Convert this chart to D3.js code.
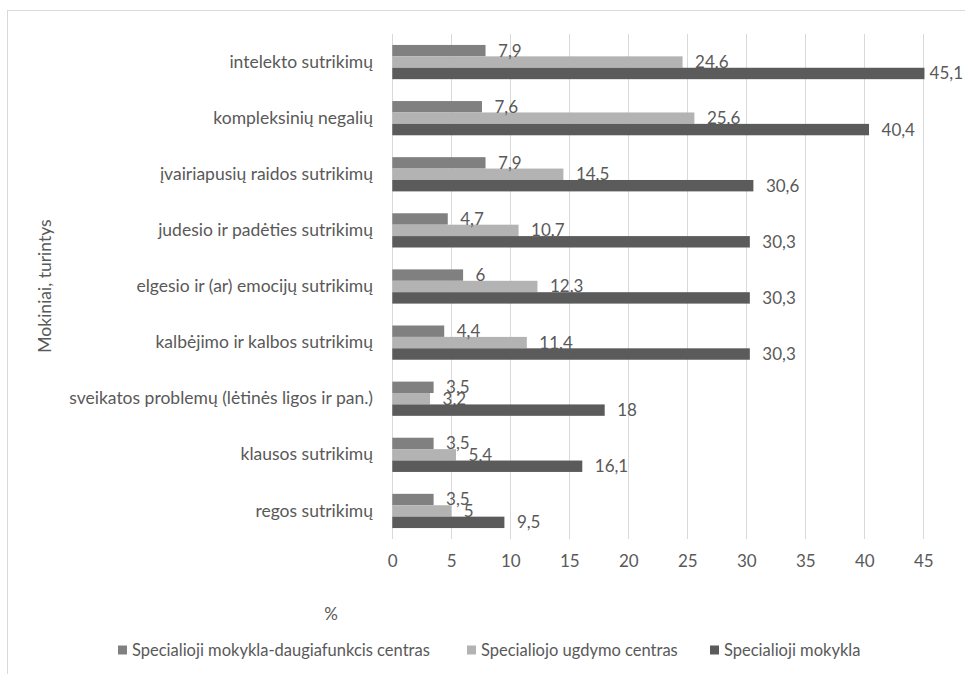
<!DOCTYPE html>
<html>
<head>
<meta charset="utf-8">
<script src="https://cdn.jsdelivr.net/npm/d3@7"></script>
<style>
  body { margin: 0; background: #fff; }
  svg text { font-family: Lato, "Open Sans", sans-serif; fill: #595959; }
</style>
</head>
<body>
<svg width="965" height="674"></svg>
<script>
// chart data
const categories = [
  "intelekto sutrikimų",
  "kompleksinių negalių",
  "įvairiapusių raidos sutrikimų",
  "judesio ir padėties sutrikimų",
  "elgesio ir (ar) emocijų sutrikimų",
  "kalbėjimo ir kalbos sutrikimų",
  "sveikatos problemų (lėtinės ligos ir pan.)",
  "klausos sutrikimų",
  "regos sutrikimų"
];
const seriesNames = [
  "Specialioji mokykla-daugiafunkcis centras",
  "Specialiojo ugdymo centras",
  "Specialioji mokykla"
];
const daugiafunkcis = [7.9, 7.6, 7.9, 4.7, 6, 4.4, 3.5, 3.5, 3.5];
const ugdymoCentras = [24.6, 25.6, 14.5, 10.7, 12.3, 11.4, 3.2, 5.4, 5];
const mokykla = [45.1, 40.4, 30.6, 30.3, 30.3, 30.3, 18, 16.1, 9.5];
const xTicks = [0, 5, 10, 15, 20, 25, 30, 35, 40, 45];

const seriesValues = [daugiafunkcis, ugdymoCentras, mokykla];
const colors = ["#808080", "#b3b3b3", "#5b5b5b"];
const fontSize = 17;
const width = 965;

const svg = d3.select("svg");

// outer frame (only top and left visible)
svg.append("rect")
  .attr("x", 7.5).attr("y", 10.5)
  .attr("width", 1000).attr("height", 1000)
  .attr("fill", "none")
  .attr("stroke", "#d9d9d9");

// scales
const x = d3.scaleLinear().domain([0, 45]).range([392.3, 923.3]);
const y0 = d3.scaleBand()
  .domain(categories)
  .range([34, 539])
  .paddingInner(0.39)
  .paddingOuter(0.195);
const y1 = d3.scaleBand()
  .domain(d3.range(seriesNames.length))
  .range([0, y0.bandwidth()]);

// gridlines
svg.append("g")
  .selectAll("line")
  .data(xTicks)
  .enter()
  .append("line")
  .attr("x1", d => Math.round(x(d)) + 0.5)
  .attr("x2", d => Math.round(x(d)) + 0.5)
  .attr("y1", 34)
  .attr("y2", 539)
  .attr("stroke", "#d9d9d9")
  .attr("stroke-width", 1);

// x axis labels
const xAxis = svg.append("g")
  .attr("transform", "translate(0,539)")
  .call(d3.axisBottom(x).tickValues(xTicks).tickSize(0).tickPadding(16));
xAxis.select(".domain").remove();
xAxis.selectAll("text")
  .attr("font-size", fontSize)
  .style("font-family", "Lato, 'Open Sans', sans-serif")
  .attr("fill", "#595959");

// category labels
const yAxis = svg.append("g")
  .attr("transform", "translate(392,0)")
  .call(d3.axisLeft(y0).tickSize(0).tickPadding(19));
yAxis.select(".domain").remove();
yAxis.selectAll("text")
  .attr("font-size", 17.5)
  .style("font-family", "Lato, 'Open Sans', sans-serif")
  .attr("fill", "#595959");

// bars
const groups = svg.append("g")
  .selectAll("g")
  .data(categories)
  .enter()
  .append("g")
  .attr("transform", d => "translate(0," + y0(d) + ")");

groups.selectAll("rect")
  .data((c, ci) => seriesValues.map((vals, si) => ({ si: si, v: vals[ci] })))
  .enter()
  .append("rect")
  .attr("x", x(0))
  .attr("y", d => y1(d.si))
  .attr("width", d => x(d.v) - x(0))
  .attr("height", y1.bandwidth())
  .attr("fill", d => colors[d.si]);

// data labels, kept inside the picture
groups.selectAll("text")
  .data((c, ci) => seriesValues.map((vals, si) => ({ si: si, v: vals[ci] })))
  .enter()
  .append("text")
  .attr("y", d => y1(d.si) + y1.bandwidth() / 2)
  .attr("dy", "0.35em")
  .attr("font-size", fontSize)
  .text(d => String(d.v).replace(".", ","))
  .attr("x", function(d) {
    const w = this.getComputedTextLength();
    return Math.min(x(d.v) + 12.5, width - 2 - w);
  });

// axis titles
svg.append("text")
  .attr("transform", "translate(51,286) rotate(-90)")
  .attr("text-anchor", "middle")
  .attr("font-size", 17.5)
  .text("Mokiniai, turintys");

svg.append("text")
  .attr("x", 331)
  .attr("y", 620)
  .attr("text-anchor", "middle")
  .attr("font-size", fontSize)
  .text("%");

// legend
const legendX = [118, 467, 710];
const legend = svg.append("g")
  .selectAll("g")
  .data(seriesNames)
  .enter()
  .append("g")
  .attr("transform", (d, i) => "translate(" + legendX[i] + ",650)");
legend.append("rect")
  .attr("x", 0)
  .attr("y", -4.5)
  .attr("width", 9)
  .attr("height", 9)
  .attr("fill", (d, i) => colors[i]);
legend.append("text")
  .attr("x", 14)
  .attr("y", 0)
  .attr("dy", "0.35em")
  .attr("font-size", 16.5)
  .text(d => d);
</script>
</body>
</html>
